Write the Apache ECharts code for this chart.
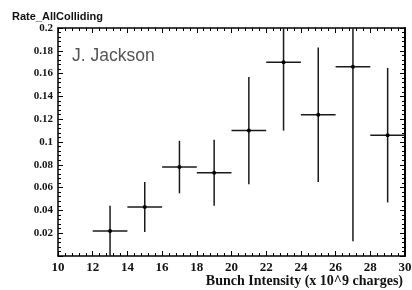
<!DOCTYPE html>
<html><head><meta charset="utf-8">
<script src="https://cdn.jsdelivr.net/npm/echarts@6/dist/echarts.min.js"></script>
<style>html,body{margin:0;padding:0;background:#fff}#c{width:412px;height:290px}</style>
</head><body><div id="c"></div>
<script>
const xValues = [13, 15, 17, 19, 21, 23, 25, 27, 29];
const yValues = [0.022, 0.043, 0.078, 0.073, 0.110, 0.170, 0.124, 0.166, 0.106];
const xErrors = [1, 1, 1, 1, 1, 1, 1, 1, 1];
const yErrors = [0.022, 0.022, 0.023, 0.029, 0.047, 0.060, 0.059, 0.153, 0.059];
const xTicks = [10, 12, 14, 16, 18, 20, 22, 24, 26, 28, 30];
const yTicks = [0.02, 0.04, 0.06, 0.08, 0.1, 0.12, 0.14, 0.16, 0.18, 0.2];
const yTitle = 'Rate_AllColliding';
const xTitle = 'Bunch Intensity (x 10^9 charges)';
const author = 'J. Jackson';

const data = xValues.map((x, i) => [x, yValues[i], xErrors[i], yErrors[i]]);
const serif = '"Liberation Serif", "DejaVu Serif", serif';
const sans = '"Liberation Sans", Arial, sans-serif';

const chart = echarts.init(document.getElementById('c'), null, {renderer: 'canvas'});
const axisCommon = {
  axisLine: {show: true, onZero: false, lineStyle: {color: '#000', width: 1.5}},
  axisTick: {show: true, inside: true, length: 5, lineStyle: {color: '#000', width: 1}},
  minorTick: {show: true, splitNumber: 5, length: 3, lineStyle: {color: '#000', width: 1}},
  splitLine: {show: false}
};
chart.setOption({
  animation: false,
  title: [
    {text: yTitle, left: 7, top: 6, textStyle: {fontFamily: sans, fontWeight: 'bold', fontSize: 11, color: '#111'}},
    {text: author, left: 67, top: 42, textStyle: {fontFamily: sans, fontWeight: 'normal', fontSize: 17.5, color: '#555'}},
    {text: xTitle, right: 4, top: 269, textStyle: {fontFamily: serif, fontWeight: 'bold', fontSize: 14, color: '#111'}}
  ],
  grid: {left: 58, right: 7, top: 28, bottom: 34, containLabel: false, outerBoundsMode: 'none'},
  xAxis: [
    Object.assign({type: 'value', min: 10, max: 30, interval: 2, position: 'bottom',
      axisLabel: {fontFamily: serif, fontWeight: 'bold', fontSize: 13, color: '#111', margin: 5,
        formatter: v => xTicks.includes(v) ? String(v) : ''}}, axisCommon),
    Object.assign({type: 'value', min: 10, max: 30, interval: 2, position: 'top', axisLabel: {show: false}}, axisCommon)
  ],
  yAxis: [
    Object.assign({type: 'value', min: 0, max: 0.2, interval: 0.02, position: 'left',
      axisLabel: {fontFamily: serif, fontWeight: 'bold', fontSize: 11, color: '#111', margin: 5,
        formatter: v => { const r = Math.round(v * 100) / 100; return yTicks.some(t => Math.abs(t - r) < 1e-9) ? String(r) : ''; }}}, axisCommon),
    Object.assign({type: 'value', min: 0, max: 0.2, interval: 0.02, position: 'right', axisLabel: {show: false}}, axisCommon, {
      axisLine: {show: true, onZero: false, lineStyle: {color: '#000', width: 2}}})
  ],
  series: [{
    type: 'custom',
    xAxisIndex: 0, yAxisIndex: 0,
    clip: true,
    data: data,
    renderItem: function (params, api) {
      const x = api.value(0), y = api.value(1), ex = api.value(2), ey = api.value(3);
      const c = api.coord([x, y]);
      const l = api.coord([x - ex, y]), r = api.coord([x + ex, y]);
      const t = api.coord([x, y + ey]), b = api.coord([x, y - ey]);
      const st = {stroke: '#1a1a1a', lineWidth: 1.5};
      return {type: 'group', children: [
        {type: 'line', shape: {x1: l[0], y1: l[1], x2: r[0], y2: r[1]}, style: st},
        {type: 'line', shape: {x1: t[0], y1: t[1], x2: b[0], y2: b[1]}, style: st},
        {type: 'circle', shape: {cx: c[0], cy: c[1], r: 2}, style: {fill: '#000'}}
      ]};
    }
  }]
});
</script></body></html>
